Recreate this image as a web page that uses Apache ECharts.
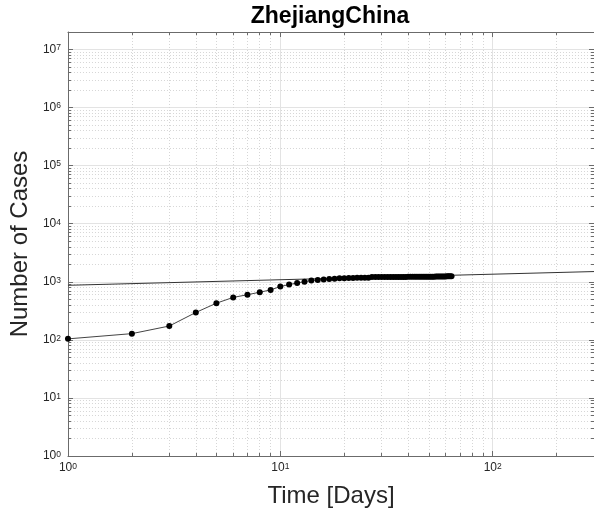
<!DOCTYPE html>
<html>
<head>
<meta charset="utf-8">
<script src="https://cdn.jsdelivr.net/npm/echarts@6/dist/echarts.min.js"></script>
<style>
html,body{margin:0;padding:0;background:#fff;}
#chart{width:594px;height:517px;}
</style>
</head>
<body>
<div id="chart"></div>
<script>
const titleText = 'ZhejiangChina';
const xName = 'Time [Days]';
const yName = 'Number of Cases';

const days = [1,2,3,4,5,6,7,8,9,10,11,12,13,14,15,16,17,18,19,20,21,22,23,24,25,26,27,28,29,30,31,32,
  33,34,35,36,37,38,39,40,41,42,43,44,45,46,47,48,49,50,51,52,53,54,55,56,57,58,59,60,61,62,63,64];
const cases = [104,128,173,296,428,538,599,661,724,829,895,954,1006,1048,1075,1092,1117,1131,1145,1155,
  1162,1167,1171,1172,1174,1175,1203,1205,1205,1205,1205,1205,1205,1205,1205,1205,1206,1213,1213,1215,
  1215,1215,1215,1215,1215,1215,1215,1216,1217,1217,1219,1221,1223,1227,1231,1232,1234,1236,1237,1238,
  1240,1240,1241,1243];

const fitX = [1, 300];
const fitY = [870, 1500];

const xMajorTicks = [1, 10, 100];
const xMinorTicks = [2,3,4,5,6,7,8,9,20,30,40,50,60,70,80,90,200,300];
const yMajorTicks = [1, 10, 100, 1000, 10000, 100000, 1000000, 10000000];
const yMinorTicks = [];
for (let k = 0; k < 7; k++) for (let m = 2; m <= 9; m++) yMinorTicks.push(m * Math.pow(10, k));
yMinorTicks.push(20000000);

const xMin = 1, xMax = 300, yMin = 1, yMax = 20000000;

const FONT = 'Liberation Sans';
const AXIS_COLOR = '#6b6b6b';
const TEXT_COLOR = '#262626';

function fmt(v) {
  const e = Math.round(Math.log10(v));
  return '{b|10}{s|' + e + '}';
}
const rich = {
  b: {fontFamily: FONT, fontSize: 12, color: TEXT_COLOR, lineHeight: 12, verticalAlign: 'bottom'},
  s: {fontFamily: FONT, fontSize: 8.5, color: TEXT_COLOR, lineHeight: 8, verticalAlign: 'top', padding: [0, 0, 8, 0]}
};

function axisBase(extra) {
  return Object.assign({
    type: 'log', logBase: 10, gridIndex: 0,
    axisLine: {show: true, lineStyle: {color: AXIS_COLOR, width: 1}},
    axisTick: {show: false},
    axisLabel: {show: false},
    splitLine: {show: false},
    minorTick: {show: false},
    minorSplitLine: {show: false}
  }, extra);
}

const xAxes = [
  axisBase({
    position: 'bottom', min: xMin, max: xMax,
    name: xName, nameLocation: 'middle', nameGap: 25,
    nameTextStyle: {fontFamily: FONT, fontSize: 24, color: TEXT_COLOR},
    axisTick: {show: true, inside: true, length: 5, customValues: xMajorTicks, lineStyle: {color: AXIS_COLOR}},
    axisLabel: {show: true, customValues: xMajorTicks, formatter: fmt, rich: rich, margin: 6},
    splitLine: {show: true, lineStyle: {color: '#e3e3e3', width: 1}}
  }),
  axisBase({
    position: 'top', min: xMin, max: xMax,
    axisTick: {show: true, inside: true, length: 5, customValues: xMajorTicks, lineStyle: {color: AXIS_COLOR}}
  }),
  axisBase({
    position: 'bottom', min: xMin, max: xMax,
    axisLine: {show: false},
    axisTick: {show: true, inside: true, length: 3, customValues: xMinorTicks, lineStyle: {color: AXIS_COLOR}},
    splitLine: {show: true, lineStyle: {color: '#d6d6d6', width: 1, type: [1, 2]}}
  }),
  axisBase({
    position: 'top', min: xMin, max: xMax,
    axisLine: {show: false},
    axisTick: {show: true, inside: true, length: 3, customValues: xMinorTicks, lineStyle: {color: AXIS_COLOR}}
  })
];

const yAxes = [
  axisBase({
    position: 'left', min: yMin, max: yMax,
    name: yName, nameLocation: 'middle', nameGap: 32,
    nameTextStyle: {fontFamily: FONT, fontSize: 24, color: TEXT_COLOR},
    axisTick: {show: true, inside: true, length: 5, customValues: yMajorTicks, lineStyle: {color: AXIS_COLOR}},
    axisLabel: {show: true, customValues: yMajorTicks, formatter: fmt, rich: rich, margin: 7},
    splitLine: {show: true, lineStyle: {color: '#e3e3e3', width: 1}}
  }),
  axisBase({
    position: 'right', min: yMin, max: yMax,
    axisTick: {show: true, inside: true, length: 5, customValues: yMajorTicks, lineStyle: {color: AXIS_COLOR}}
  }),
  axisBase({
    position: 'left', min: yMin, max: yMax,
    axisLine: {show: false},
    axisTick: {show: true, inside: true, length: 3, customValues: yMinorTicks, lineStyle: {color: AXIS_COLOR}},
    splitLine: {show: true, lineStyle: {color: '#d6d6d6', width: 1, type: [1, 2]}}
  }),
  axisBase({
    position: 'right', min: yMin, max: yMax,
    axisLine: {show: false},
    axisTick: {show: true, inside: true, length: 3, customValues: yMinorTicks, lineStyle: {color: AXIS_COLOR}}
  })
];

const chart = echarts.init(document.getElementById('chart'), null, {renderer: 'canvas'});
chart.setOption({
  animation: false,
  backgroundColor: '#ffffff',
  title: {
    text: titleText, left: 330, top: 5, padding: 0, textAlign: 'center',
    textStyle: {fontFamily: FONT, fontSize: 23, fontWeight: 'bold', color: '#000'}
  },
  grid: {left: 63, top: 32, width: 534, height: 424, containLabel: false},
  xAxis: xAxes,
  yAxis: yAxes,
  series: [
    {
      type: 'line', xAxisIndex: 0, yAxisIndex: 0,
      data: fitX.map((x, i) => [x, fitY[i]]),
      showSymbol: false, symbol: 'none',
      lineStyle: {color: '#333333', width: 1}, z: 3
    },
    {
      type: 'line', xAxisIndex: 0, yAxisIndex: 0,
      data: days.map((d, i) => [d, cases[i]]),
      symbol: 'circle', symbolSize: 6, showSymbol: true, showAllSymbol: true,
      itemStyle: {color: '#000000'},
      lineStyle: {color: '#444444', width: 1}, z: 4
    }
  ]
});
</script>
</body>
</html>
